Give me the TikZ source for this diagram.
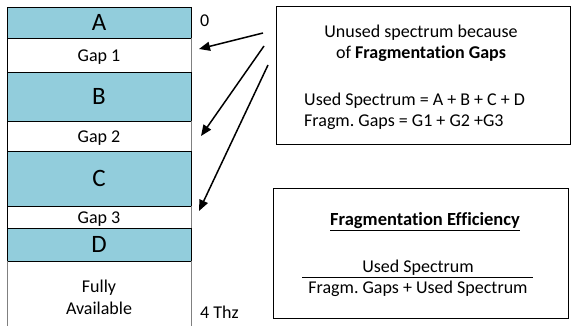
\documentclass[tikz,border=0pt]{standalone}
\usepackage{fontspec}
\setmainfont[Ligatures=NoCommon]{Carlito}
\usetikzlibrary{arrows.meta,calc}
\definecolor{bandblue}{HTML}{92CDDC}
\definecolor{edgegray}{HTML}{808080}
\tikzset{
  band/.style={draw=black, line width=0.8pt, minimum width=184pt, inner sep=0pt,
    outer sep=0pt, anchor=north west, align=center},
  used/.style={band, fill=bandblue, font=\fontsize{25}{26}\selectfont},
  gapband/.style={band, fill=white, font=\fontsize{18}{19}\selectfont,
    text height=13pt, text depth=0pt},
  infobox/.style={draw=black, line width=1.2pt, inner sep=0pt, anchor=north west},
  boxtext/.style={font=\fontsize{18}{21}\selectfont, inner sep=0pt},
  pointer/.style={line width=1.5pt, -{Triangle[length=11pt, width=9pt]}}
}
\frenchspacing
\begin{document}
\begin{tikzpicture}[x=1pt, y=-1pt]
  \useasboundingbox (0,0) rectangle (572,326);
  % spectrum column, top (0) to bottom (4 THz)
  \node[used,    minimum height=31pt] (A)    at (7,7)   {A};
  \node[gapband, minimum height=34pt] (G1)   at (7,38)  {Gap 1};
  \node[used,    minimum height=49pt] (B)    at (7,72)  {B};
  \node[gapband, minimum height=30pt] (G2)   at (7,121) {Gap 2};
  \node[used,    minimum height=55pt] (C)    at (7,151) {C};
  \node[gapband, minimum height=22pt] (G3)   at (7,206) {Gap 3};
  \node[used,    minimum height=33pt] (D)    at (7,228) {D};
  \node[band, draw=none, minimum height=66pt] (free) at (7,261) {};
  \node[boxtext, align=center, font=\fontsize{18}{22}\selectfont] (avail) at (99,297)
       {Fully\\Available};
  \draw[edgegray, line width=0.8pt] (free.north west) -- (free.south west)
       (free.north east) -- (free.south east);
  \draw[edgegray, line width=0.8pt] (G1.north east) -- (G1.south east)
       (G2.north east) -- (G2.south east) (G3.north east) -- (G3.south east);
  % scale labels
  \node[boxtext, anchor=west] (zero) at (200,21) {0};
  \node[boxtext, anchor=west] (thz)  at (200,312) {4 Thz};
  % explanation box
  \node[infobox, minimum width=294pt, minimum height=138pt] (info) at (276,6) {};
  \node[boxtext, align=center] (why) at (421,43)
       {Unused spectrum because\\of \textbf{Fragmentation Gaps}};
  \node[boxtext, anchor=west, align=left] (sums) at (304,111)
       {Used Spectrum = A + B + C + D\\Fragm. Gaps = G1 + G2 +G3};
  % efficiency box
  \node[infobox, minimum width=295pt, minimum height=130pt] (eff) at (273,188) {};
  \node[boxtext, font=\fontsize{18.5}{21}\selectfont] (efftitle) at (425,222)
       {\underline{\textbf{Fragmentation Efficiency}}};
  \node[boxtext] (num) at (418,268) {Used Spectrum};
  \node[boxtext] (den) at (418,289) {Fragm. Gaps + Used Spectrum};
  \draw[line width=1pt] (302,277.5) -- (533,277.5);
  % pointers to the gaps
  \coordinate (t1) at (263,33);  \coordinate (h1) at (199,49);
  \coordinate (t2) at (264,46);  \coordinate (h2) at (201,136);
  \coordinate (t3) at (268,65);  \coordinate (h3) at (199,211);
  \draw[pointer] (t1) -- (h1);
  \draw[pointer] (t2) -- (h2);
  \draw[pointer] (t3) -- (h3);
\end{tikzpicture}
\end{document}
